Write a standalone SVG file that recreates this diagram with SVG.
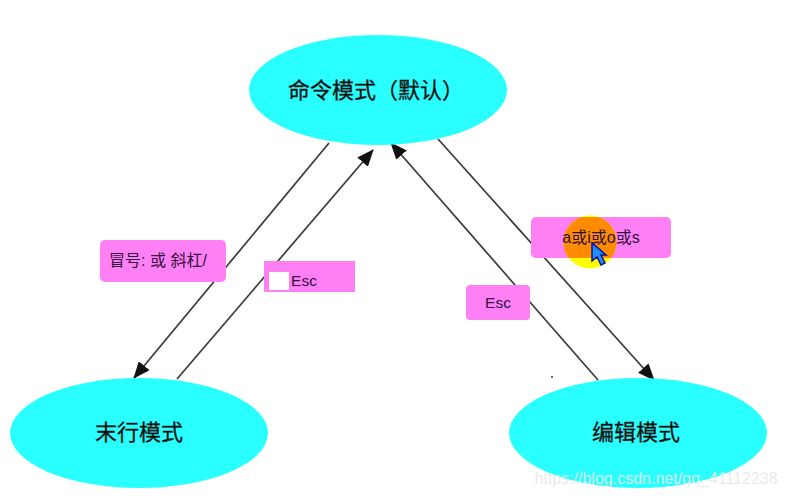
<svg xmlns="http://www.w3.org/2000/svg" width="786" height="498" viewBox="0 0 786 498">
<style>
.n{fill:#2affff}
.l{fill:#ff80f5}
.t{font-family:"Liberation Sans","Noto Sans CJK SC",sans-serif;fill:#111;text-anchor:middle;stroke:#111;stroke-width:.3}
.big{font-size:22px}
.sm{font-size:15.500px;fill:#301040;stroke:none}
.c{stroke:#3a3a3a;stroke-width:1.700;fill:none;marker-end:url(#a)}
</style>
<defs>
<marker id="a" markerUnits="userSpaceOnUse" markerWidth="18" markerHeight="14" refX="16" refY="7" orient="auto"><path d="M0 0L17 7L0 14Z" fill="#111"/></marker>
<clipPath id="clip"><rect x="531" y="217" width="140" height="41"/></clipPath>
</defs>
<rect width="786" height="498" fill="#fff"/>
<g id="connectors">
<path class="c" d="M329 143L134 378"/>
<path class="c" d="M177 379L373 150"/>
<path class="c" d="M598 380L391 143"/>
<path class="c" d="M438 139L654 380"/>
</g>
<g id="node-command"><ellipse class="n" cx="378" cy="90" rx="129" ry="55"/><text class="t big" x="376" y="98">命令模式（默认）</text></g>
<g id="node-lastline"><ellipse class="n" cx="139" cy="433" rx="129" ry="55"/><text class="t big" x="139" y="440">末行模式</text></g>
<g id="node-edit"><ellipse class="n" cx="638" cy="433" rx="129" ry="55"/><text class="t big" x="636" y="440">编辑模式</text></g>
<g id="label-colon"><rect class="l" x="100" y="240" width="126" height="42" rx="5"/><text class="t sm" x="158" y="266" style="font-size:16px">冒号: 或 斜杠/</text></g>
<g id="label-esc1"><rect class="l" x="264" y="261" width="91" height="31"/><rect x="269" y="272" width="20" height="18" fill="#fff"/><text class="t sm" x="304" y="286">Esc</text></g>
<g id="label-esc2"><rect class="l" x="466" y="285" width="64" height="35" rx="4"/><text class="t sm" x="498" y="308">Esc</text></g>
<g id="label-aios"><rect class="l" x="531" y="217" width="140" height="41" rx="5"/>
<circle cx="590" cy="242" r="26.500" fill="#ffff00"/>
<circle cx="590" cy="242" r="26.500" fill="#ff8c00" clip-path="url(#clip)"/>
<text class="t sm" x="601" y="243" style="font-size:16px">a或i或o或s</text>
<path d="M592 243L592 261L597 257L601 265L605 263L601 255L606 255Z" fill="#1f8fff" stroke="#101090" stroke-width="1.500"/></g>
<circle cx="552" cy="377" r="1" fill="#444"/>
<text x="656" y="484" font-family="Liberation Sans,sans-serif" font-size="16" fill="#e8e8e8" fill-opacity=".9" text-anchor="middle">https://blog.csdn.net/qq_41112238</text>
</svg>
